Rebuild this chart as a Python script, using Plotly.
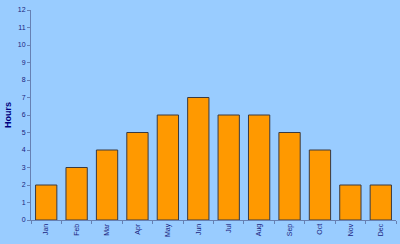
import plotly.graph_objects as go

months = ["Jan", "Feb", "Mar", "Apr", "May", "Jun", "Jul", "Aug", "Sep", "Oct", "Nov", "Dec"]
hours = [2, 3, 4, 5, 6, 7, 6, 6, 5, 4, 2, 2]

fig = go.Figure(go.Bar(
    x=months, y=hours,
    marker=dict(color="#FF9900", line=dict(color="#3A3A40", width=1)),
))
fig.update_layout(
    width=400, height=244,
    margin=dict(l=31, r=4, t=10, b=24),
    paper_bgcolor="#99CCFF", plot_bgcolor="#99CCFF",
    bargap=0.3, showlegend=False,
    font=dict(family="Liberation Sans, Arial", color="#1A237E", size=7),
)
fig.update_xaxes(
    tickangle=-90, showline=True, linecolor="#6680B3", linewidth=1,
    ticks="outside", tickson="boundaries", ticklen=3, tickcolor="#6680B3",
    showgrid=False, tickfont=dict(size=7, color="#1A237E"),
)
fig.update_yaxes(
    range=[0, 12], dtick=1, showline=True, linecolor="#6680B3", linewidth=1,
    ticks="outside", ticklen=3, tickcolor="#6680B3", showgrid=False, zeroline=False,
    tickfont=dict(size=7, color="#1A237E"),
    title=dict(text="<b>Hours</b>", font=dict(size=9, color="#000080"), standoff=4),
)
fig.write_html("out.html")
